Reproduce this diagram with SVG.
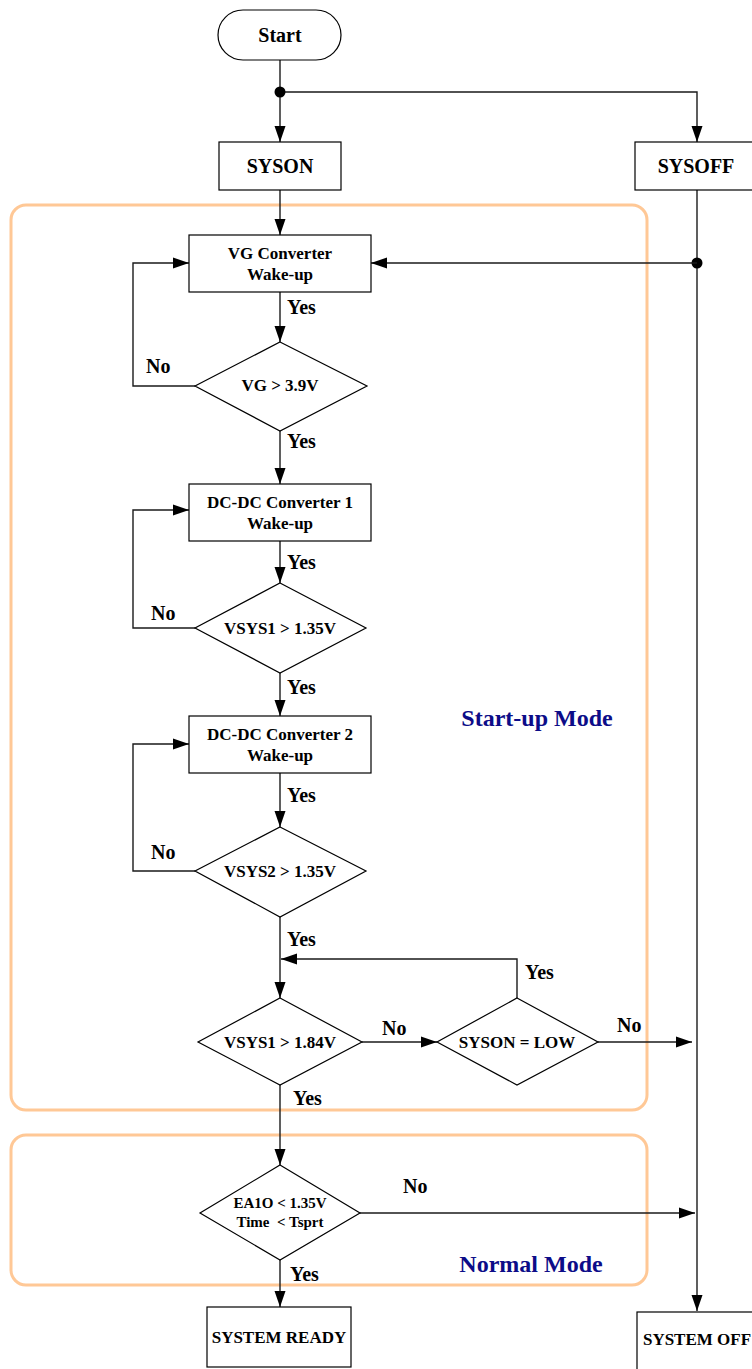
<svg xmlns="http://www.w3.org/2000/svg" width="752" height="1369" viewBox="0 0 752 1369">
<style>
.n{fill:#fff;stroke:#000;stroke-width:1.2}
.t{font-family:"Liberation Serif",serif;font-weight:bold;fill:#000;text-anchor:middle}
.big{font-size:20px}
.bx{font-size:17px}
.sm{font-size:17px}
.lbl{font-family:"Liberation Serif",serif;font-weight:bold;fill:#000;font-size:20px}
.mode{fill:none;stroke:#FFC896;stroke-width:3}
.mt{font-family:"Liberation Serif",serif;font-weight:bold;fill:#0C0C88;font-size:24px;text-anchor:middle}
.c{fill:none;stroke:#1a1a1a;stroke-width:1.4}
</style>
<defs>
<marker id="a" markerUnits="userSpaceOnUse" markerWidth="17" markerHeight="12" refX="16" refY="6" orient="auto">
<path d="M0,0.5 L16,6 L0,11.5 Z" fill="#000"/>
</marker>
</defs>
<rect width="752" height="1369" fill="#fff"/>
<g id="regions">
<rect class="mode" x="11" y="205" width="636" height="905" rx="15"/>
<rect class="mode" x="11" y="1135" width="636" height="150" rx="15"/>
<text class="mt" x="537" y="726">Start-up Mode</text>
<text class="mt" x="531" y="1272">Normal Mode</text>
</g>
<g id="connectors">
<path class="c" d="M280,60 V142" marker-end="url(#a)"/>
<path class="c" d="M280,92 H697 V142" marker-end="url(#a)"/>
<circle cx="280" cy="92" r="5.5"/>
<path class="c" d="M280,190 V235" marker-end="url(#a)"/>
<path class="c" d="M697,190 V1311" marker-end="url(#a)"/>
<circle cx="697" cy="263" r="5.5"/>
<path class="c" d="M697,263 H371" marker-end="url(#a)"/>
<path class="c" d="M280,292 V342" marker-end="url(#a)"/>
<path class="c" d="M195,386 H133 V263 H189" marker-end="url(#a)"/>
<path class="c" d="M280,431 V484" marker-end="url(#a)"/>
<path class="c" d="M280,541 V583" marker-end="url(#a)"/>
<path class="c" d="M195,628 H133 V510 H189" marker-end="url(#a)"/>
<path class="c" d="M280,673 V716" marker-end="url(#a)"/>
<path class="c" d="M280,773 V827" marker-end="url(#a)"/>
<path class="c" d="M195,871 H133 V744 H189" marker-end="url(#a)"/>
<path class="c" d="M280,917 V998" marker-end="url(#a)"/>
<path class="c" d="M517,998 V959 H281" marker-end="url(#a)"/>
<path class="c" d="M362,1042 H437" marker-end="url(#a)"/>
<path class="c" d="M598,1042 H692" marker-end="url(#a)"/>
<path class="c" d="M280,1085 V1165" marker-end="url(#a)"/>
<path class="c" d="M360,1213 H695" marker-end="url(#a)"/>
<path class="c" d="M280,1260 V1307" marker-end="url(#a)"/>
<text class="lbl" x="287" y="314">Yes</text>
<text class="lbl" x="146" y="373">No</text>
<text class="lbl" x="287" y="448">Yes</text>
<text class="lbl" x="287" y="569">Yes</text>
<text class="lbl" x="151" y="620">No</text>
<text class="lbl" x="287" y="694">Yes</text>
<text class="lbl" x="287" y="802">Yes</text>
<text class="lbl" x="151" y="859">No</text>
<text class="lbl" x="287" y="946">Yes</text>
<text class="lbl" x="525" y="979">Yes</text>
<text class="lbl" x="382" y="1035">No</text>
<text class="lbl" x="617" y="1032">No</text>
<text class="lbl" x="293" y="1105">Yes</text>
<text class="lbl" x="403" y="1193">No</text>
<text class="lbl" x="290" y="1281">Yes</text>
</g>
<g id="start">
<rect class="n" x="218" y="10" width="123" height="50" rx="25"/>
<text class="t big" x="280" y="42">Start</text>
</g>
<g id="syson">
<rect class="n" x="219" y="142" width="122" height="48"/>
<text class="t big" x="280" y="173">SYSON</text>
</g>
<g id="sysoff">
<rect class="n" x="635" y="142" width="122" height="48"/>
<text class="t big" x="696" y="173">SYSOFF</text>
</g>
<g id="vg">
<rect class="n" x="189" y="235" width="182" height="57"/>
<text class="t bx" x="280" y="259">VG Converter</text>
<text class="t bx" x="280" y="280">Wake-up</text>
</g>
<g id="d-vg">
<polygon class="n" points="280,342 367,386 280,431 195,386"/>
<text class="t bx" x="280" y="391">VG &gt; 3.9V</text>
</g>
<g id="dc1">
<rect class="n" x="189" y="484" width="182" height="57"/>
<text class="t bx" x="280" y="508">DC-DC Converter 1</text>
<text class="t bx" x="280" y="529">Wake-up</text>
</g>
<g id="d-vsys1">
<polygon class="n" points="280,583 366,628 280,673 195,628"/>
<text class="t bx" x="280" y="634">VSYS1 &gt; 1.35V</text>
</g>
<g id="dc2">
<rect class="n" x="189" y="716" width="182" height="57"/>
<text class="t bx" x="280" y="740">DC-DC Converter 2</text>
<text class="t bx" x="280" y="761">Wake-up</text>
</g>
<g id="d-vsys2">
<polygon class="n" points="280,827 366,871 280,917 195,871"/>
<text class="t bx" x="280" y="877">VSYS2 &gt; 1.35V</text>
</g>
<g id="d-vsys184">
<polygon class="n" points="280,998 362,1042 280,1085 198,1042"/>
<text class="t bx" x="280" y="1048">VSYS1 &gt; 1.84V</text>
</g>
<g id="d-syson-low">
<polygon class="n" points="517,998 598,1042 517,1085 437,1042"/>
<text class="t bx" x="517" y="1048">SYSON = LOW</text>
</g>
<g id="d-ea1o">
<polygon class="n" points="280,1165 360,1213 280,1260 200,1213"/>
<text class="t" style="font-size:15px" x="280" y="1208">EA1O &lt; 1.35V</text>
<text class="t" style="font-size:15px" x="280" y="1227" xml:space="preserve">Time  &lt; Tsprt</text>
</g>
<g id="ready">
<rect class="n" x="207" y="1307" width="144" height="60"/>
<text class="t sm" x="279" y="1343">SYSTEM READY</text>
</g>
<g id="off">
<rect class="n" x="637" y="1312" width="124" height="60"/>
<text class="t sm" x="697" y="1345">SYSTEM OFF</text>
</g>
</svg>
